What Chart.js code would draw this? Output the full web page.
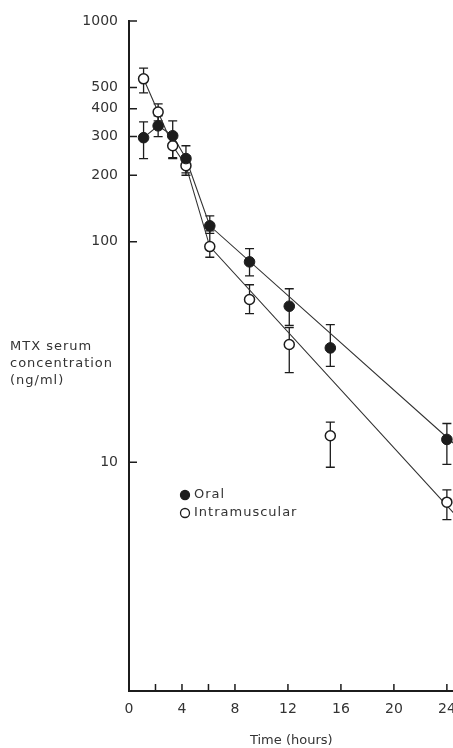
<!DOCTYPE html>
<html>
<head>
<meta charset="utf-8">
<script src="https://cdn.jsdelivr.net/npm/chart.js@4.4.1/dist/chart.umd.min.js"></script>
<style>
  html, body { margin: 0; padding: 0; background: #fff; overflow: hidden; width: 453px; height: 748px; }
  canvas { display: block; }
</style>
</head>
<body>
<!-- canvas a few px wider than the window: the plot runs off the right edge like the scan -->
<canvas id="chart" width="460" height="748"></canvas>
<script>
// sampling times (hours)
const times = [1.1, 2.2, 3.3, 4.3, 6.1, 9.1, 12.1, 15.2, 24];

// oral: mean and error bar ends (ng/ml)
const oral = [296, 335, 302, 238, 118, 81, 51, 33, 12.7];
const oralLow = [238, 299, 238, 205, 109, 70, 41.7, 27.2, 9.8];
const oralHigh = [349, 372, 353, 272, 131, 93, 61.2, 42.1, 15.0];

// intramuscular
const im = [547, 387, 272, 221, 95, 54.7, 34.2, 13.2, 6.6];
const imLow = [472, 353, 240, 200, 85, 47.2, 25.5, 9.5, 5.5];
const imHigh = [612, 421, 305, 245, 112, 63.8, 40.8, 15.2, 7.5];

// drawn curves (early points joined, then straight elimination line to the edge)
const fitTimes = [1.1, 2.2, 3.3, 4.3, 6.1, 24.5];
const oralFit = [296, 335, 302, 238, 118, 12.2];
const imFit = [547, 387, 272, 221, 95, 5.9];

const xTicks = [0, 2, 4, 6, 8, 12, 16, 20, 24];
const xLabels = [0, 4, 8, 12, 16, 20, 24];
const yTicks = [10, 100, 200, 300, 400, 500, 1000];
const yTitleLines = ['MTX serum', 'concentration', '(ng/ml)'];
const xTitle = 'Time (hours)';

const FONT = '"DejaVu Sans", Verdana, sans-serif';
const INK = '#1c1c1c';
const TEXT = '#333333';

const pts = (xs, ys) => xs.map((x, i) => ({ x: x, y: ys[i] }));

// error bars, inward tick marks, y title and legend
const extras = {
  id: 'extras',
  beforeDatasetsDraw(chart) {
    const ctx = chart.ctx;
    const xs = chart.scales.x, ys = chart.scales.y;
    ctx.save();
    ctx.strokeStyle = INK;
    ctx.lineWidth = 1.3;
    [[oralLow, oralHigh], [imLow, imHigh]].forEach(([lo, hi]) => {
      times.forEach((t, i) => {
        const px = xs.getPixelForValue(t);
        const y1 = ys.getPixelForValue(lo[i]);
        const y2 = ys.getPixelForValue(hi[i]);
        ctx.beginPath();
        ctx.moveTo(px, y1); ctx.lineTo(px, y2);
        ctx.moveTo(px - 4.5, y1); ctx.lineTo(px + 4.5, y1);
        ctx.moveTo(px - 4.5, y2); ctx.lineTo(px + 4.5, y2);
        ctx.stroke();
      });
    });
    ctx.restore();
  },
  afterDraw(chart) {
    const ctx = chart.ctx;
    const xs = chart.scales.x, ys = chart.scales.y;
    const area = chart.chartArea;
    ctx.save();
    ctx.strokeStyle = INK;
    ctx.lineWidth = 1.5;
    ctx.beginPath();
    xTicks.filter(v => v > 0).forEach(v => {
      const px = xs.getPixelForValue(v);
      ctx.moveTo(px, area.bottom); ctx.lineTo(px, area.bottom - 7);
    });
    yTicks.forEach(v => {
      const py = ys.getPixelForValue(v);
      ctx.moveTo(area.left, py); ctx.lineTo(area.left + 8, py);
    });
    ctx.stroke();

    // y axis title, left aligned block
    ctx.fillStyle = TEXT;
    ctx.font = '13px ' + FONT;
    ctx.letterSpacing = '1px';
    ctx.textAlign = 'left';
    ctx.textBaseline = 'middle';
    yTitleLines.forEach((s, i) => ctx.fillText(s, 10, 347 + i * 17));

    // legend
    const sets = chart.data.datasets.filter(d => d.inLegend);
    sets.forEach((d, i) => {
      const y = 495 + i * 18;
      ctx.beginPath();
      ctx.arc(185, y, 4.5, 0, Math.PI * 2);
      ctx.fillStyle = d.backgroundColor;
      ctx.fill();
      ctx.lineWidth = 1.3;
      ctx.strokeStyle = INK;
      ctx.stroke();
      ctx.fillStyle = TEXT;
      ctx.fillText(d.label, 194, y);
    });
    ctx.restore();
  }
};

new Chart(document.getElementById('chart'), {
  type: 'scatter',
  data: {
    datasets: [
      {
        label: 'Oral', inLegend: true, data: pts(times, oral), order: 0,
        pointRadius: 5.3, pointHoverRadius: 5.3,
        backgroundColor: INK, borderColor: INK, borderWidth: 1
      },
      {
        label: 'Intramuscular', inLegend: true, data: pts(times, im), order: 0,
        pointRadius: 5, pointHoverRadius: 5,
        backgroundColor: '#ffffff', borderColor: INK, borderWidth: 1.5
      },
      {
        label: 'Oral curve', data: pts(fitTimes, oralFit), order: 1,
        showLine: true, pointRadius: 0, borderColor: '#333', borderWidth: 1.1, tension: 0
      },
      {
        label: 'Intramuscular curve', data: pts(fitTimes, imFit), order: 1,
        showLine: true, pointRadius: 0, borderColor: '#333', borderWidth: 1.1, tension: 0
      }
    ]
  },
  options: {
    responsive: false,
    animation: false,
    layout: { padding: { top: 21, left: 0, right: 0, bottom: 0 } },
    plugins: { legend: { display: false }, tooltip: { enabled: false } },
    scales: {
      x: {
        type: 'linear', min: 0, max: 24.5,
        grid: { display: false, drawTicks: false },
        border: { display: true, color: INK, width: 2 },
        afterBuildTicks: s => { s.ticks = xTicks.map(v => ({ value: v })); },
        afterFit: s => { s.height = 57; s.paddingLeft = 0; s.paddingRight = 0; },
        ticks: {
          padding: 10, color: TEXT, font: { family: FONT, size: 14 },
          maxRotation: 0, autoSkip: false,
          callback: v => xLabels.includes(v) ? String(v) : ''
        },
        title: {
          display: true, text: xTitle, color: TEXT,
          font: { family: FONT, size: 13 }, padding: { top: 0, bottom: 0 }
        }
      },
      y: {
        type: 'logarithmic', min: 0.92, max: 1000,
        grid: { display: false, drawTicks: false },
        border: { display: true, color: INK, width: 2 },
        afterBuildTicks: s => { s.ticks = yTicks.map(v => ({ value: v })); },
        afterFit: s => { s.width = 129; s.paddingTop = 0; s.paddingBottom = 0; },
        ticks: {
          padding: 11, color: TEXT, font: { family: FONT, size: 14 },
          autoSkip: false, callback: v => String(v)
        }
      }
    }
  },
  plugins: [extras]
});
</script>
</body>
</html>
